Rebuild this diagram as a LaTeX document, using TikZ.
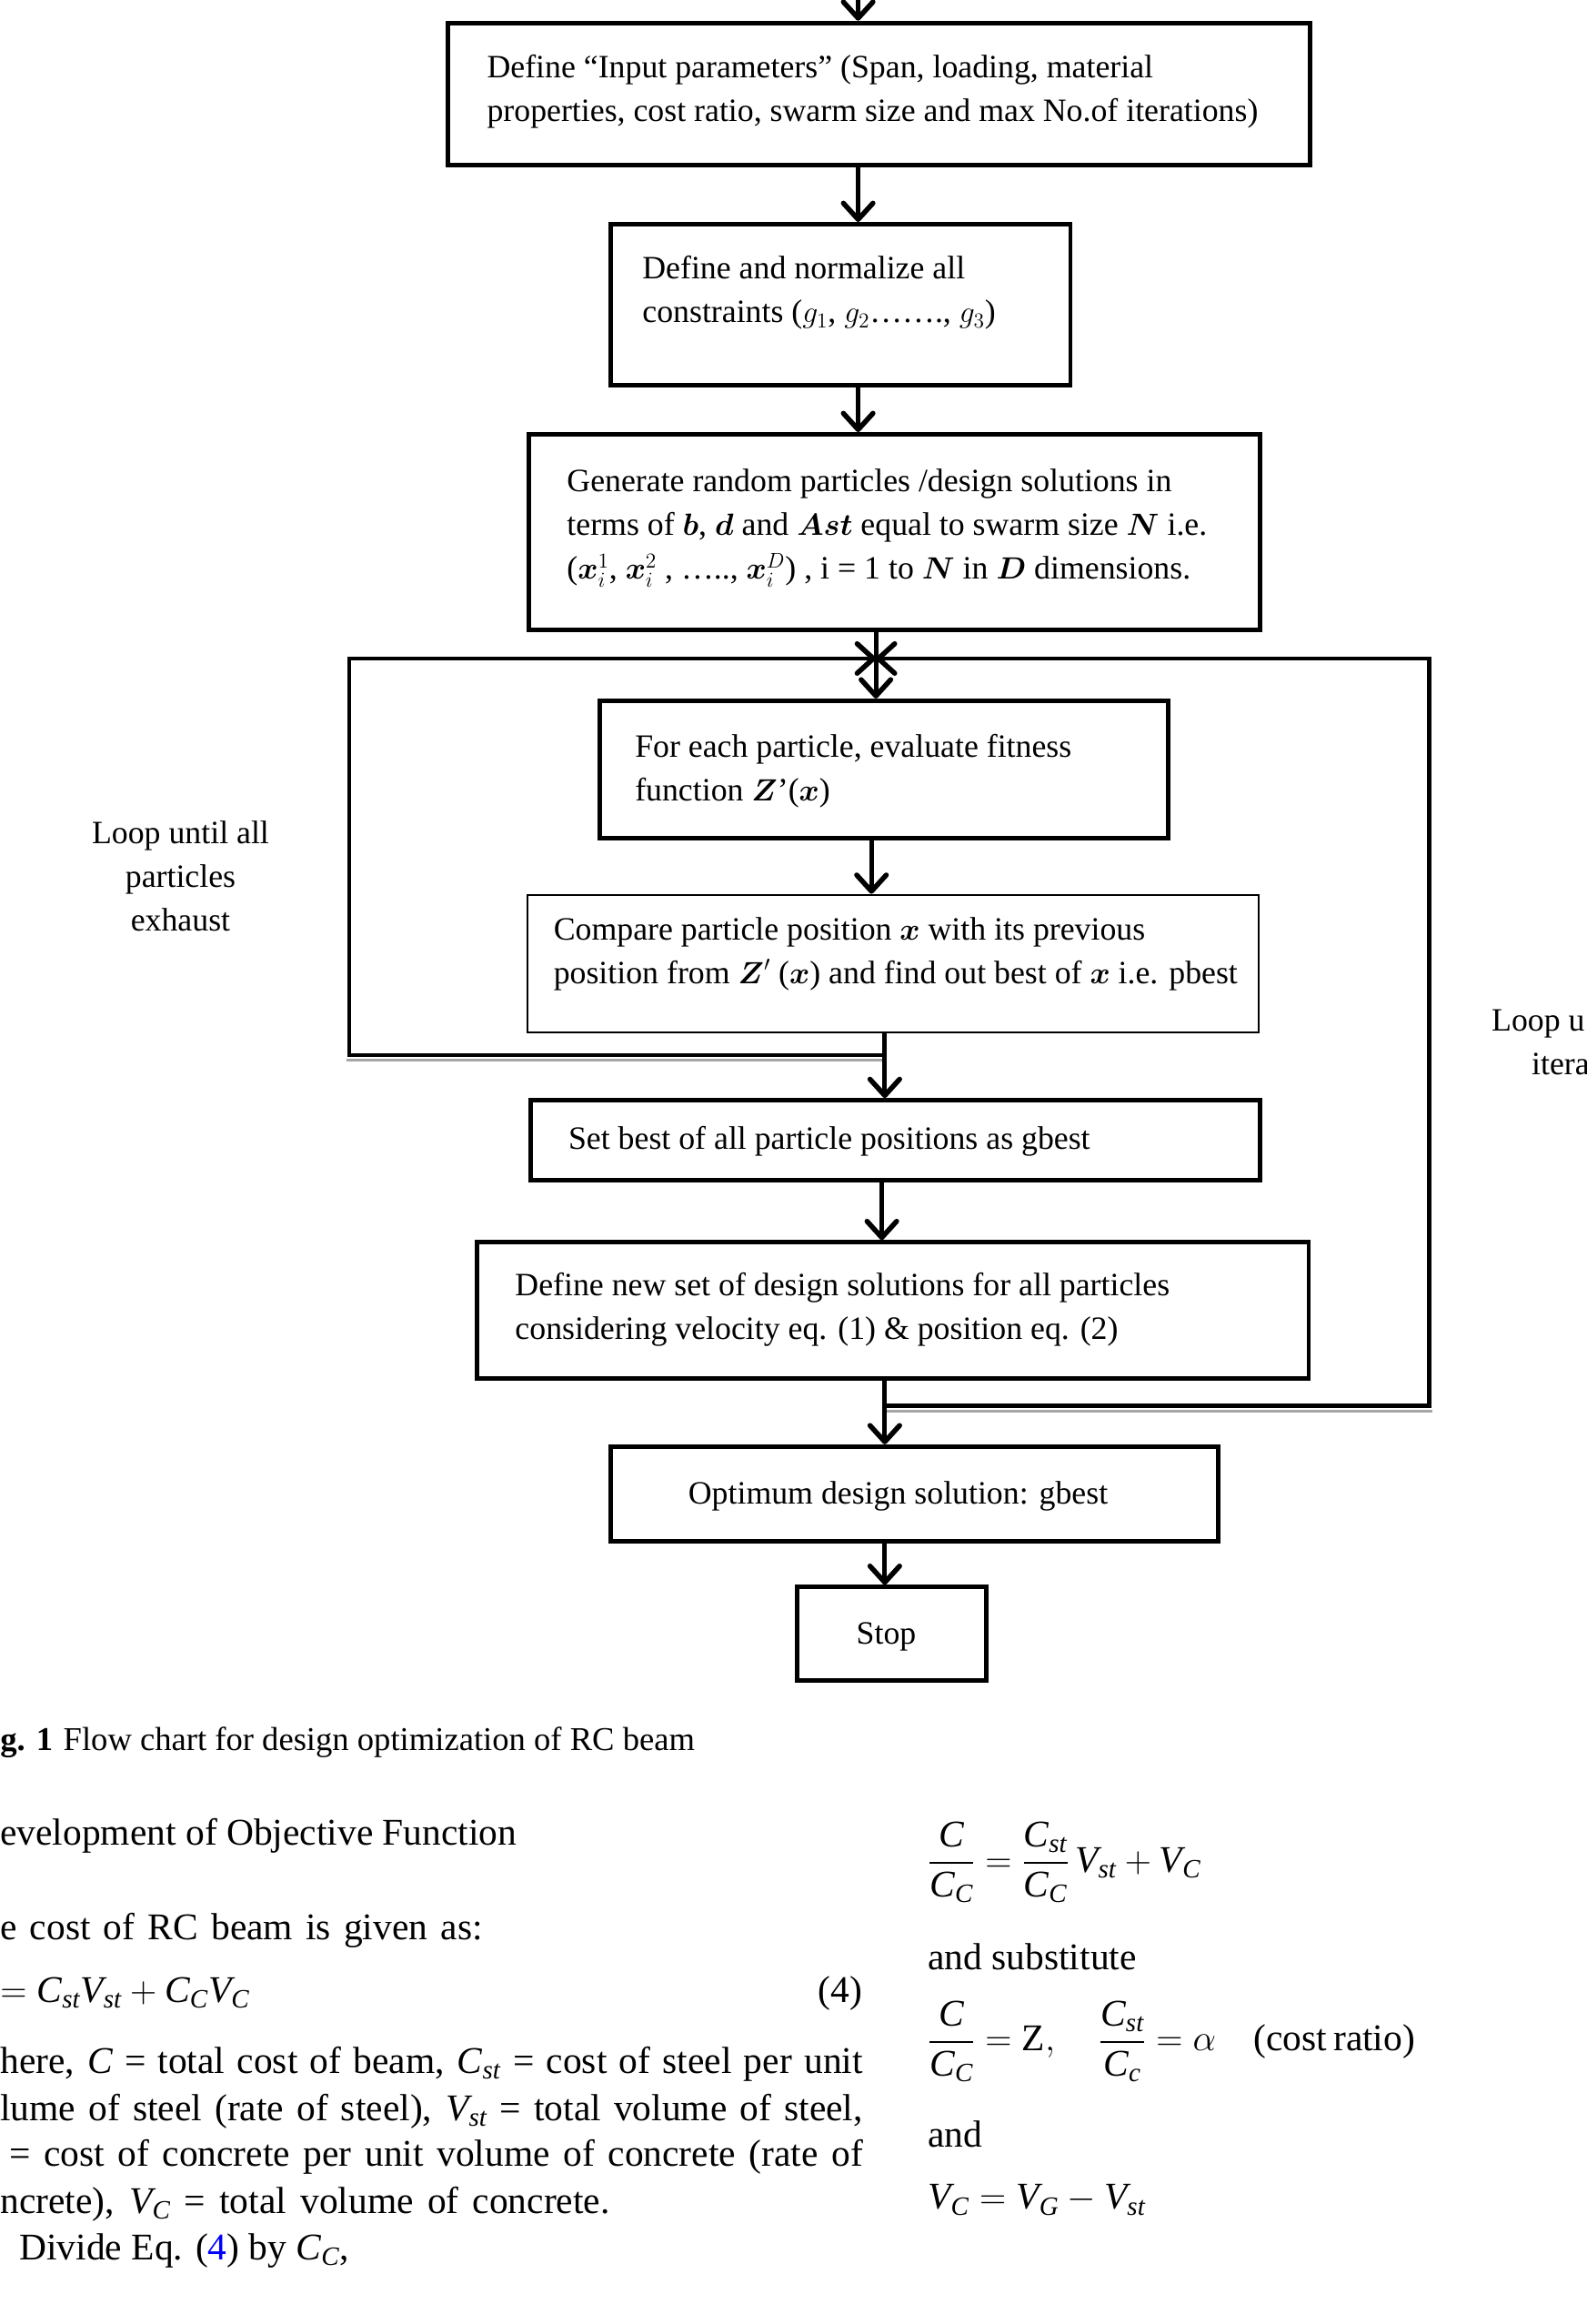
\documentclass[tikz,border=0pt]{standalone}
\usepackage{amsmath}
\usepackage{fontspec}
\setmainfont{Liberation Serif}
\usetikzlibrary{arrows.meta}
\newcommand{\ti}[1]{\textit{#1}}
\newcommand{\bx}[1]{\boldsymbol{#1}}
\begin{document}
\begin{tikzpicture}[x=1pt,y=-1pt,
  box/.style={draw, line width=3pt, inner sep=0pt, anchor=north west},
  thinbox/.style={draw, line width=1.2pt, inner sep=0pt, anchor=north west},
  txt/.style={anchor=north west, inner sep=0pt, align=left, font=\fontsize{22}{29.5}\selectfont},
  ctxt/.style={inner sep=0pt, font=\fontsize{22}{29.5}\selectfont},
  flow/.style={line width=3pt, -{Straight Barb[length=11pt,width=20pt,line width=3.4pt,round]}},
  shadowline/.style={line width=2pt, draw=black!35},
  body/.style={anchor=base west, inner sep=0pt, font=\fontsize{25.5}{30}\selectfont},
  captxt/.style={anchor=base west, inner sep=0pt, font=\fontsize{22.5}{26}\selectfont}
]
\useasboundingbox (0,0) rectangle (1072,1570.5);

% boxes
\node[box, minimum width=583pt, minimum height=96pt] (b1) at (301,14) {};
\node[box, minimum width=311pt, minimum height=109pt] (b2) at (411,150) {};
\node[box, minimum width=494pt, minimum height=132pt] (b3) at (356,292) {};
\node[box, minimum width=384pt, minimum height=93pt] (b4) at (404,472) {};
\node[thinbox, minimum width=494pt, minimum height=93pt] (b5) at (356,604) {};
\node[box, minimum width=493pt, minimum height=54pt] (b6) at (357,742) {};
\node[box, minimum width=562pt, minimum height=92pt] (b7) at (321,838) {};
\node[box, minimum width=411pt, minimum height=64pt] (b8) at (411,976) {};
\node[box, minimum width=128pt, minimum height=63pt] (b9) at (537,1071) {};

% box texts
\node[txt] (t1) at (329,37) {\rule{0pt}{15pt}Define “Input parameters” (Span, loading, material\\properties, cost ratio, swarm size and max No.of iterations)};
\node[txt] (t2) at (434,173) {\rule{0pt}{15pt}Define and normalize all\\constraints ($g_1$,\ $g_2$…….,\ $g_3$)};
\node[txt] (t3) at (383,317) {\rule{0pt}{15pt}Generate random particles /design solutions in\\terms of $\bx{b}$, $\bx{d}$ and $\bx{Ast}$ equal to swarm size $\bx{N}$ i.e.\\($\bx{x}_i^1$, $\bx{x}_i^2$ , ….., $\bx{x}_i^D$) , i = 1 to $\bx{N}$ in $\bx{D}$ dimensions.};
\node[txt] (t4) at (429,496) {\rule{0pt}{15pt}For each particle, evaluate fitness\\function $\bx{Z}$’($\bx{x}$)};
\node[txt] (t5) at (374,620) {\rule{0pt}{15pt}Compare particle position $\bx{x}$ with its previous\\position from $\bx{Z}'$ ($\bx{x}$) and find out best of $\bx{x}$ i.e. pbest};
\node[txt] (t6) at (384,761) {\rule{0pt}{15pt}Set best of all particle positions as gbest};
\node[txt] (t7) at (348,860) {\rule{0pt}{15pt}Define new set of design solutions for all particles\\considering velocity eq. (1) \& position eq. (2)};
\node[ctxt] (t8) at (607,1011) {Optimum design solution: gbest};
\node[ctxt] (t9) at (599,1106) {Stop};

% side labels
\node[ctxt, align=center] (ll1) at (122,592) {Loop until all\\particles\\exhaust};
\node[ctxt, anchor=base west] (lr1) at (1008,697) {Loop u};
\node[ctxt, anchor=base west] (lr2) at (1035,726) {itera};

% connectors
\coordinate (top) at (580,0);
\coordinate (j) at (592,445);
\coordinate (c45) at (589,0);
\coordinate (m) at (598,0);
\coordinate (c67) at (596,0);
\coordinate (ll) at (236,713);
\coordinate (rl) at (966,950);

\draw[shadowline] (234,716.5) -- (598,716.5);
\draw[shadowline] (598,953.5) -- (968,953.5);

\draw[flow] (top) -- (top |- b1.north);
\draw[flow] (b1.south -| top) -- (b2.north -| top);
\draw[flow] (b2.south -| top) -- (b3.north -| top);
\draw[flow] (b3.south -| j) -- (b4.north -| j);
\draw[flow] (b4.south -| c45) -- (b5.north -| c45);
\draw[flow] (b5.south -| m) -- (b6.north -| m);
\draw[flow] (m |- ll) -- (ll) -- (ll |- j) -- (j);
\draw[flow] (b6.south -| c67) -- (b7.north -| c67);
\draw[flow] (b7.south -| m) -- (b8.north -| m);
\draw[flow] (m |- rl) -- (rl) -- (rl |- j) -- (j);
\draw[flow] (b8.south -| m) -- (b9.north -| m);

% caption and text below
\node[captxt] (capt) at (0,1183) {\textbf{g. 1}\hspace{7pt}Flow chart for design optimization of RC beam};
\node[body] (s1) at (0,1247) {evelopment of Objective Function};
\node[body] (s2) at (0,1311) {\makebox[326pt][s]{e cost of RC beam is given as:}};
\node[body] (s3) at (0,1353) {$=\ti{C}_{\ti{st}}\ti{V}_{\ti{st}}+\ti{C}_{\ti{C}}\ti{V}_{\ti{C}}$};
\node[body, anchor=base east] (s3n) at (583,1353) {(4)};
\node[body] (s4) at (0,1401) {\makebox[583pt][s]{here, $\ti{C}$ = total cost of beam, $\ti{C}_{\ti{st}}$ = cost of steel per unit}};
\node[body] (s5) at (0,1433) {\makebox[583pt][s]{lume of steel (rate of steel), $\ti{V}_{\ti{st}}$ = total volume of steel,}};
\node[body] (s6) at (6,1464) {\makebox[577pt][s]{= cost of concrete per unit volume of concrete (rate of}};
\node[body] (s7) at (0,1496) {\makebox[412pt][s]{ncrete), $\ti{V}_{\ti{C}}$ = total volume of concrete.}};
\node[body] (s8) at (13,1527) {Divide Eq. (\textcolor{blue}{4}) by $\ti{C}_{\ti{C}}$,};

\node[body] (r1) at (627,1265) {$\dfrac{\ti{C}}{\ti{C}_{\ti{C}}}=\dfrac{\ti{C}_{\ti{st}}}{\ti{C}_{\ti{C}}}\,\ti{V}_{\ti{st}}+\ti{V}_{\ti{C}}$};
\node[body] (r2) at (627,1331) {and substitute};
\node[body] (r3) at (627,1386) {$\dfrac{\ti{C}}{\ti{C}_{\ti{C}}}=\mathrm{Z},\quad\dfrac{\ti{C}_{\ti{st}}}{\ti{C}_{\ti{c}}}=\alpha$\quad(cost\,ratio)};
\node[body] (r4) at (627,1451) {and};
\node[body] (r5) at (627,1493) {$\ti{V}_{\ti{C}}=\ti{V}_{\ti{G}}-\ti{V}_{\ti{st}}$};
\end{tikzpicture}
\end{document}
